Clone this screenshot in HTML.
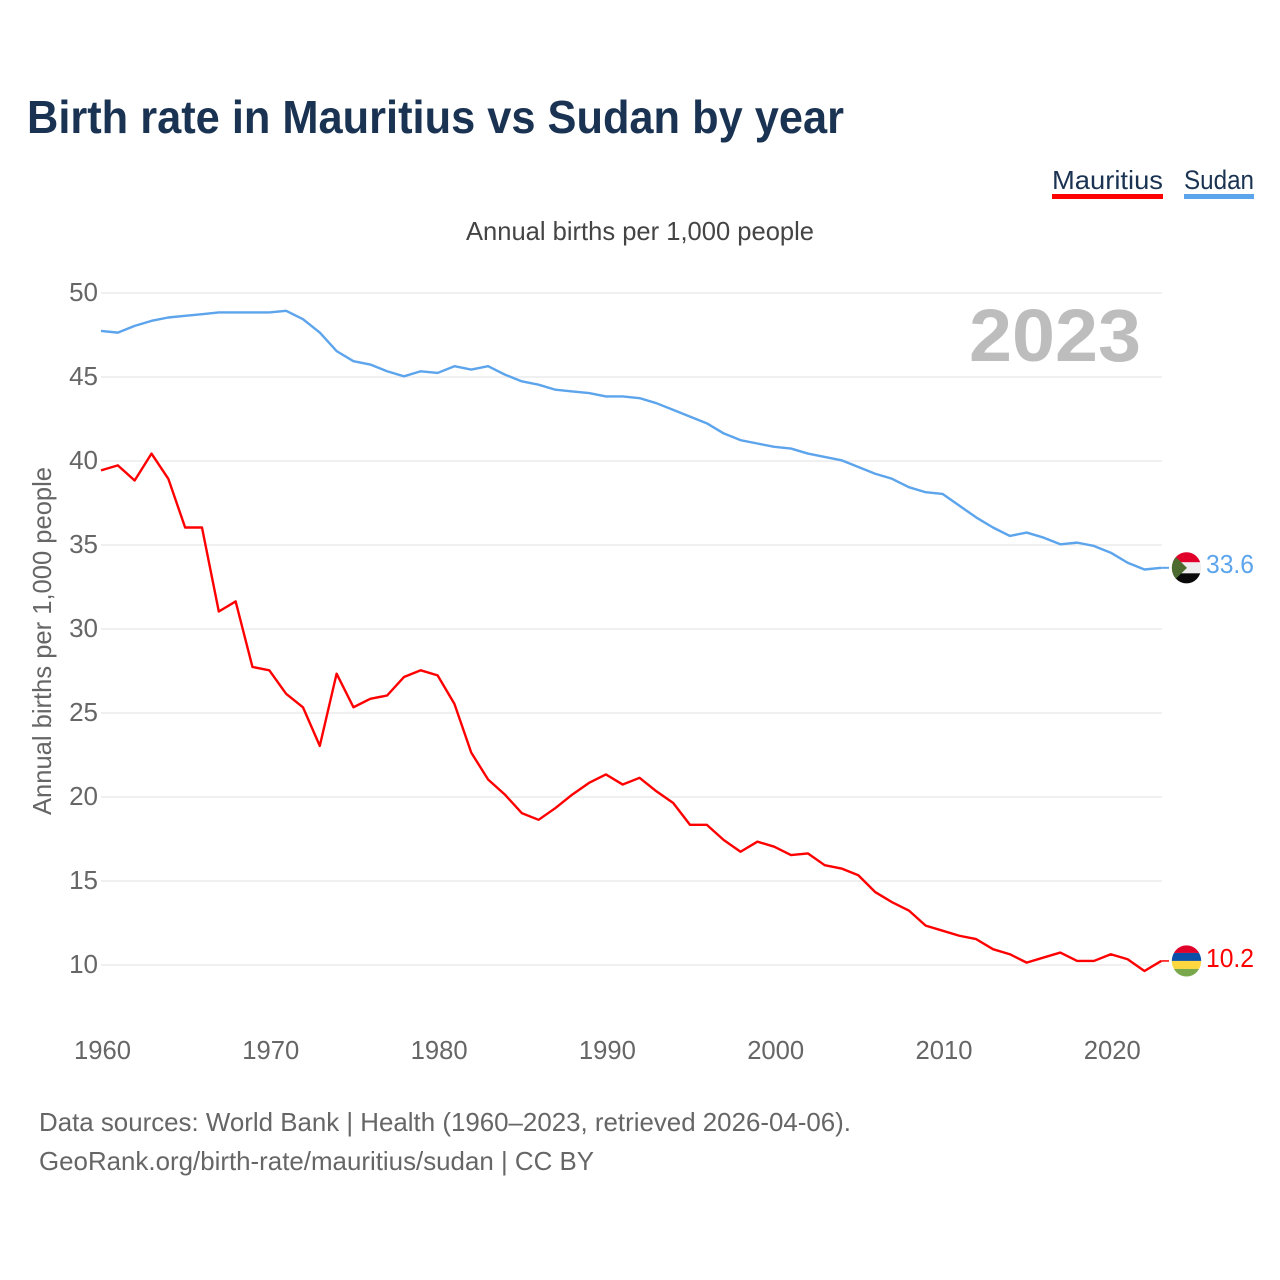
<!DOCTYPE html>
<html lang="en">
<head>
<meta charset="utf-8">
<title>Birth rate in Mauritius vs Sudan by year</title>
<style>
html,body{margin:0;padding:0;background:#fff}
svg{display:block}
text{font-family:"Liberation Sans",sans-serif}
</style>
</head>
<body>
<svg id="chart" xmlns="http://www.w3.org/2000/svg" width="1280" height="1280" viewBox="0 0 1280 1280">
  <defs>
    <clipPath id="flag-clip-sudan"><ellipse cx="0" cy="0" rx="14.7" ry="15.6"></ellipse></clipPath>
    <clipPath id="flag-clip-mauritius"><ellipse cx="0" cy="0" rx="14.7" ry="15.6"></ellipse></clipPath>
  </defs>
  <rect x="0" y="0" width="1280" height="1280" fill="#fff"></rect>
  <text x="27" y="133" font-size="46" font-weight="700" fill="#1a3352" textLength="817" lengthAdjust="spacingAndGlyphs">Birth rate in Mauritius vs Sudan by year</text>

  <g>
    <text x="1052" y="189" font-size="26" fill="#1a3352" textLength="111" lengthAdjust="spacingAndGlyphs">Mauritius</text>
    <rect x="1052" y="194" width="111" height="5" fill="#ff0000"></rect>
  </g>
  <g>
    <text x="1184" y="189" font-size="27" fill="#1a3352" textLength="70" lengthAdjust="spacingAndGlyphs">Sudan</text>
    <rect x="1184" y="194" width="70" height="5" fill="#5ca4ec"></rect>
  </g>

  <text x="466" y="240" font-size="26" fill="#444" textLength="348" lengthAdjust="spacingAndGlyphs">Annual births per 1,000 people</text>

  <g id="grid-layer"></g>
  <text x="969" y="361" font-size="74" font-weight="700" fill="#bdbdbd" textLength="172" lengthAdjust="spacingAndGlyphs">2023</text>
  <g id="y-tick-layer"></g>
  <g id="x-tick-layer"></g>

  <text transform="translate(51,815) rotate(-90)" x="0" y="0" font-size="26" fill="#666" textLength="348" lengthAdjust="spacingAndGlyphs">Annual births per 1,000 people</text>

  <path id="line-sudan" fill="none" stroke="#5ca4ec" stroke-width="2.4" stroke-linejoin="round"></path>
  <path id="line-mauritius" fill="none" stroke="#ff0000" stroke-width="2.4" stroke-linejoin="round"></path>
  <path id="leader-sudan" fill="none" stroke="#5ca4ec" stroke-width="2"></path>
  <path id="leader-mauritius" fill="none" stroke="#ff0000" stroke-width="1.5"></path>

  <g id="flag-sudan">
    <g clip-path="url(#flag-clip-sudan)">
      <rect x="-16" y="-16" width="32" height="10.5" fill="#e0002a"></rect>
      <rect x="-16" y="-5.5" width="32" height="11" fill="#eeeeee"></rect>
      <rect x="-16" y="5.5" width="32" height="10.5" fill="#0a0a0a"></rect>
      <polygon points="-16,-16 0.5,0 -16,16" fill="#4d6b2e"></polygon>
    </g>
  </g>
  <g id="flag-mauritius">
    <g clip-path="url(#flag-clip-mauritius)">
      <rect x="-16" y="-16" width="32" height="8" fill="#e0002a"></rect>
      <rect x="-16" y="-8" width="32" height="8" fill="#0a50a8"></rect>
      <rect x="-16" y="0" width="32" height="8" fill="#ffd740"></rect>
      <rect x="-16" y="8" width="32" height="8" fill="#78a84b"></rect>
    </g>
  </g>
  <text id="value-sudan" x="1206" y="573" font-size="26" fill="#5ca4ec" textLength="48" lengthAdjust="spacingAndGlyphs"></text>
  <text id="value-mauritius" x="1206" y="967" font-size="26" fill="#ff0000" textLength="48" lengthAdjust="spacingAndGlyphs"></text>

  <text x="39" y="1131" font-size="26" fill="#666" textLength="812" lengthAdjust="spacingAndGlyphs">Data sources: World Bank | Health (1960–2023, retrieved 2026-04-06).</text>
  <text x="39" y="1170" font-size="26" fill="#666" textLength="555" lengthAdjust="spacingAndGlyphs">GeoRank.org/birth-rate/mauritius/sudan | CC BY</text>
</svg>
<script>
const startYear = 1960;
const yTickLabels = [50, 45, 40, 35, 30, 25, 20, 15, 10];
const xTickLabels = [1960, 1970, 1980, 1990, 2000, 2010, 2020];
const sudanValues = [47.7,47.6,48.0,48.3,48.5,48.6,48.7,48.8,48.8,48.8,48.8,48.9,48.4,47.6,46.5,45.9,45.7,45.3,45.0,45.3,45.2,45.6,45.4,45.6,45.1,44.7,44.5,44.2,44.1,44.0,43.8,43.8,43.7,43.4,43.0,42.6,42.2,41.6,41.2,41.0,40.8,40.7,40.4,40.2,40.0,39.6,39.2,38.9,38.4,38.1,38.0,37.3,36.6,36.0,35.5,35.7,35.4,35.0,35.1,34.9,34.5,33.9,33.5,33.6];
const mauritiusValues = [39.4,39.7,38.8,40.4,38.9,36.0,36.0,31.0,31.6,27.7,27.5,26.1,25.3,23.0,27.3,25.3,25.8,26.0,27.1,27.5,27.2,25.5,22.6,21.0,20.1,19.0,18.6,19.3,20.1,20.8,21.3,20.7,21.1,20.3,19.6,18.3,18.3,17.4,16.7,17.3,17.0,16.5,16.6,15.9,15.7,15.3,14.3,13.7,13.2,12.3,12.0,11.7,11.5,10.9,10.6,10.1,10.4,10.7,10.2,10.2,10.6,10.3,9.6,10.2];

const SVG_NS = 'http://www.w3.org/2000/svg';
const lineShift = -0.7;
function xScale(year) { return 101 + (year - 1960) * 16.83; }
function yScale(value) { return 293 + (50 - value) * 16.8; }
function linePath(values) {
  return values.map(function (v, i) {
    return (i ? 'L' : 'M') + xScale(startYear + i).toFixed(2) + ' ' + (yScale(v) + lineShift).toFixed(2);
  }).join(' ');
}

const gridLayer = document.getElementById('grid-layer');
const yTickLayer = document.getElementById('y-tick-layer');
yTickLabels.forEach(function (t) {
  const g = document.createElementNS(SVG_NS, 'line');
  
  
  g.setAttribute('x1', 101);
  g.setAttribute('x2', 1162);
  g.setAttribute('y1', yScale(t));
  g.setAttribute('y2', yScale(t));
  g.setAttribute('stroke', '#ebebeb');
  g.setAttribute('stroke-width', '1.5');
  gridLayer.appendChild(g);
  const l = document.createElementNS(SVG_NS, 'text');
  
  
  l.setAttribute('x', 98);
  l.setAttribute('y', yScale(t) + 8);
  l.setAttribute('text-anchor', 'end');
  l.setAttribute('font-size', '26');
  l.setAttribute('fill', '#666');
  l.textContent = t;
  yTickLayer.appendChild(l);
});

const xTickLayer = document.getElementById('x-tick-layer');
xTickLabels.forEach(function (t) {
  const l = document.createElementNS(SVG_NS, 'text');
  
  
  l.setAttribute('x', xScale(t) + 1.5);
  l.setAttribute('y', 1059);
  l.setAttribute('text-anchor', 'middle');
  l.setAttribute('font-size', '26');
  l.setAttribute('fill', '#666');
  l.setAttribute('textLength', '57');
  l.setAttribute('lengthAdjust', 'spacingAndGlyphs');
  l.textContent = t;
  xTickLayer.appendChild(l);
});

document.getElementById('line-sudan').setAttribute('d', linePath(sudanValues));
document.getElementById('line-mauritius').setAttribute('d', linePath(mauritiusValues));

const lastSudan = sudanValues[sudanValues.length - 1];
const lastMauritius = mauritiusValues[mauritiusValues.length - 1];
const endX = xScale(startYear + sudanValues.length - 1);
document.getElementById('leader-sudan').setAttribute('d', 'M' + endX + ' ' + (yScale(lastSudan) + lineShift) + ' H1169');
document.getElementById('leader-mauritius').setAttribute('d', 'M' + endX + ' ' + (yScale(lastMauritius) + lineShift) + ' H1169');
document.getElementById('flag-sudan').setAttribute('transform', 'translate(1186.5,' + (yScale(lastSudan) + lineShift) + ')');
document.getElementById('flag-mauritius').setAttribute('transform', 'translate(1186.5,' + (yScale(lastMauritius) + lineShift) + ')');
document.getElementById('value-sudan').textContent = lastSudan.toFixed(1);
document.getElementById('value-mauritius').textContent = lastMauritius.toFixed(1);
</script>
</body>
</html>
